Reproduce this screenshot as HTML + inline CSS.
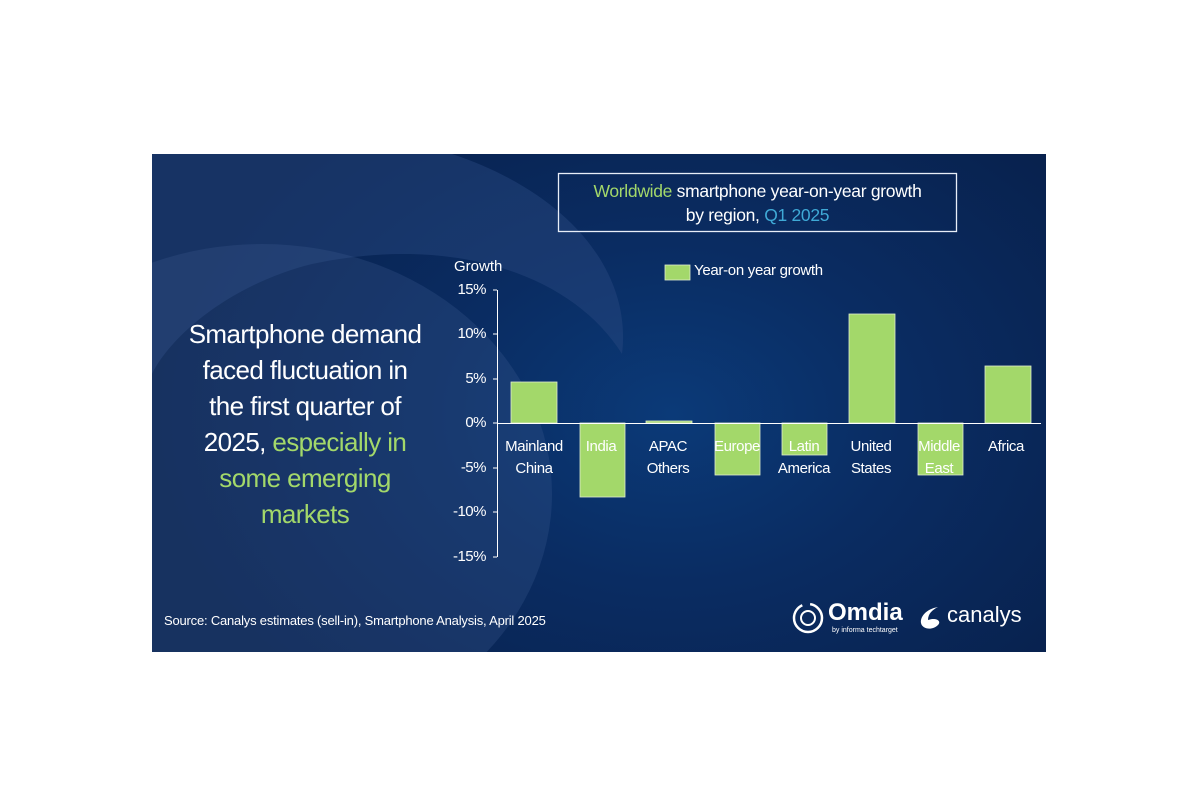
<!DOCTYPE html>
<html><head><meta charset="utf-8"><style>
html,body{margin:0;padding:0;background:#fff;width:1200px;height:800px;overflow:hidden}
#p{position:absolute;left:152px;top:154px;width:894px;height:498px;overflow:hidden;
background:radial-gradient(ellipse 520px 380px at 520px 260px,#0b3a78 0%,#0a2c62 45%,#08214d 100%);
font-family:"Liberation Sans",sans-serif;color:#fff}
.t{position:absolute;white-space:nowrap}
.y{position:absolute;left:280px;width:54px;text-align:right;font-size:15px;letter-spacing:-0.5px}
</style></head><body>
<div id="p">
<svg width="894" height="498" style="position:absolute;left:0;top:0">
<path d="M0 0 L300 0 C420 40 480 120 470 200 C420 120 300 80 160 110 C80 130 20 180 0 220 Z" fill="#2a4a80" opacity="0.45"/>
<ellipse cx="110" cy="340" rx="290" ry="250" fill="#3a5a8e" opacity="0.3"/>
<rect x="406.5" y="19.5" width="398" height="58" fill="none" stroke="#e8eef8" stroke-width="1.3"/>
<line x1="345.5" y1="136" x2="345.5" y2="403" stroke="#fff" stroke-width="1"/>
<g stroke="#fff"><line x1="341" y1="136" x2="345" y2="136"/><line x1="341" y1="180" x2="345" y2="180"/><line x1="341" y1="225" x2="345" y2="225"/><line x1="341" y1="269" x2="345" y2="269"/><line x1="341" y1="314" x2="345" y2="314"/><line x1="341" y1="358" x2="345" y2="358"/><line x1="341" y1="403" x2="345" y2="403"/></g>
<g fill="#a3d86a" stroke="#dfeecd" stroke-width="0.8">
<rect x="359" y="228" width="46" height="41"/>
<rect x="428" y="269" width="45" height="74"/>
<rect x="494" y="267" width="46" height="2"/>
<rect x="563" y="269" width="45" height="52"/>
<rect x="630" y="269" width="45" height="32"/>
<rect x="697" y="160" width="46" height="109"/>
<rect x="766" y="269" width="45" height="52"/>
<rect x="833" y="212" width="46" height="57"/>
<rect x="513" y="111" width="25" height="15"/>
</g>
<line x1="345" y1="269.5" x2="889" y2="269.5" stroke="#fff" stroke-width="1"/>
</svg>
<div class="t" style="left:406px;top:25px;width:399px;text-align:center;font-size:17.5px;line-height:24px;letter-spacing:-0.3px"><span style="color:#a3d86a">Worldwide</span> smartphone year-on-year growth<br>by region, <span style="color:#3fa9d6">Q1 2025</span></div>
<div class="t" style="left:302px;top:104px;font-size:15px">Growth</div>
<div class="t" style="left:542px;top:108px;font-size:15px;letter-spacing:-0.3px">Year-on year growth</div>
<div class="y" style="top:127px">15%</div>
<div class="y" style="top:171px">10%</div>
<div class="y" style="top:216px">5%</div>
<div class="y" style="top:260px">0%</div>
<div class="y" style="top:305px">-5%</div>
<div class="y" style="top:349px">-10%</div>
<div class="y" style="top:394px">-15%</div>
<div class="t" style="left:345px;top:282px;font-size:15px;line-height:22px;text-align:center;letter-spacing:-0.4px">
<span style="position:absolute;left:0;width:74px">Mainland<br>China</span>
<span style="position:absolute;left:67px;width:74px">India</span>
<span style="position:absolute;left:134px;width:74px">APAC<br>Others</span>
<span style="position:absolute;left:203px;width:74px">Europe</span>
<span style="position:absolute;left:270px;width:74px">Latin<br>America</span>
<span style="position:absolute;left:337px;width:74px">United<br>States</span>
<span style="position:absolute;left:405px;width:74px">Middle<br>East</span>
<span style="position:absolute;left:472px;width:74px">Africa</span>
</div>
<div class="t" style="left:0;top:162px;width:306px;text-align:center;font-size:26px;line-height:36px;letter-spacing:-0.6px">Smartphone demand<br>faced fluctuation in<br>the first quarter of<br>2025, <span style="color:#a3d86a">especially in<br>some emerging<br>markets</span></div>
<div class="t" style="left:12px;top:459px;font-size:13px;letter-spacing:-0.2px">Source: Canalys estimates (sell-in), Smartphone Analysis, April 2025</div>
<svg width="40" height="40" style="position:absolute;left:636px;top:444px"><circle cx="20" cy="20" r="14" fill="none" stroke="#fff" stroke-width="2.5" stroke-dasharray="60 8"/><circle cx="20" cy="20" r="7" fill="none" stroke="#fff" stroke-width="2"/></svg>
<div class="t" style="left:676px;top:445px;font-size:24px;font-weight:bold">Omdia</div>
<div class="t" style="left:680px;top:473px;font-size:7px">by informa techtarget</div>
<svg width="26" height="26" style="position:absolute;left:766px;top:451px"><path d="M20 2 C8 4 2 12 3 18 C4 24 14 26 20 20 C24 16 18 12 10 15 C10 9 14 5 20 2 Z" fill="#fff"/></svg>
<div class="t" style="left:795px;top:448px;font-size:22px">canalys</div>
</div>
</body></html>
